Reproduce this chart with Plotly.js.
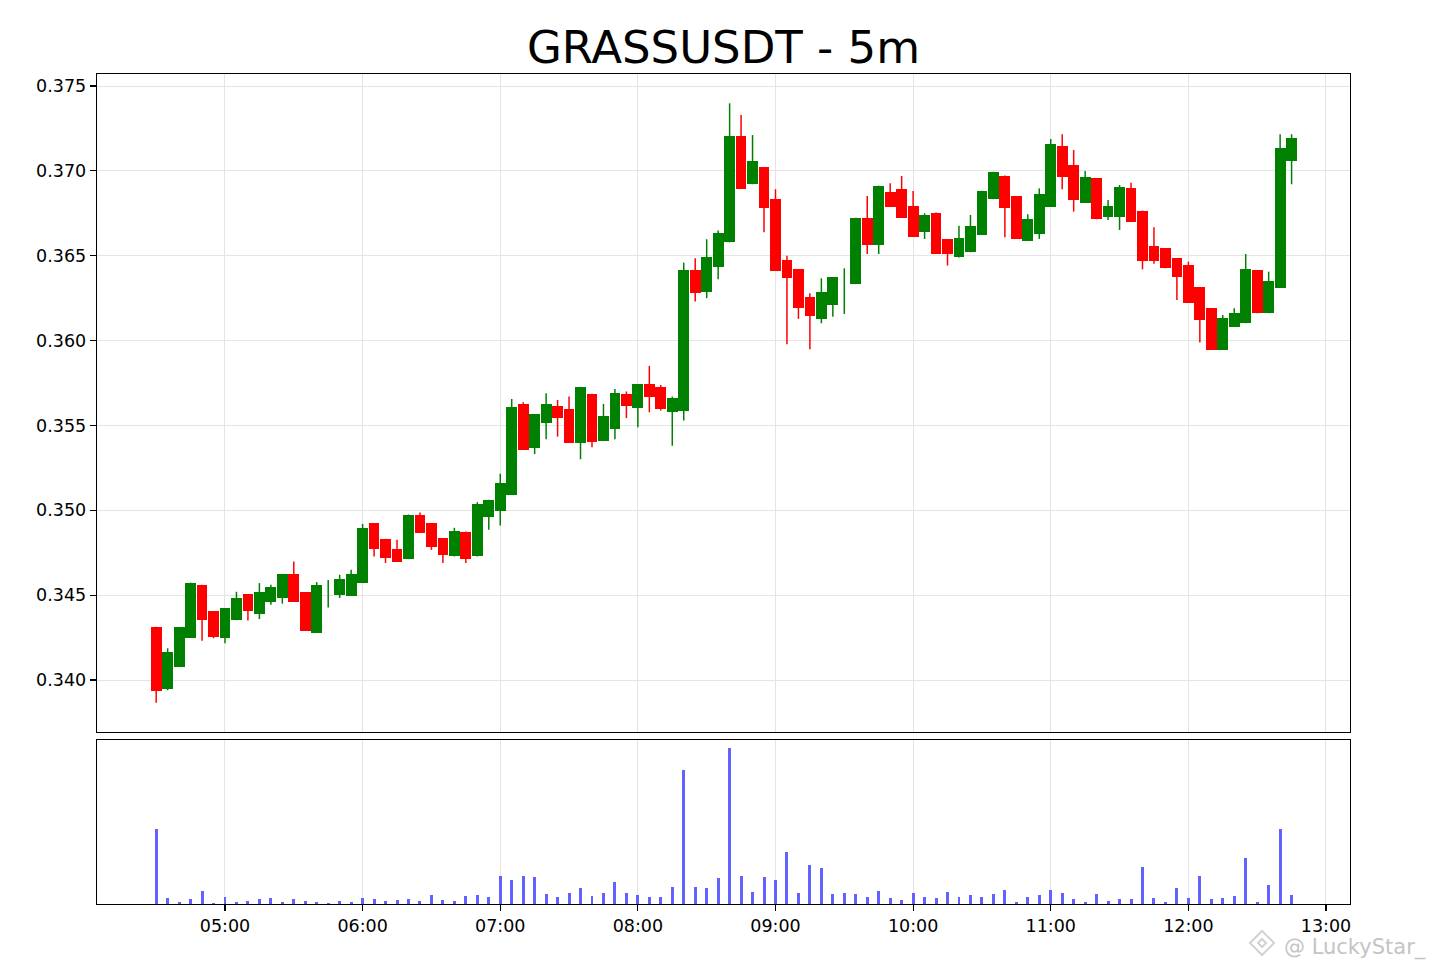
<!DOCTYPE html>
<html>
<head>
<meta charset="utf-8">
<script src="https://cdn.plot.ly/plotly-3.0.1.min.js"></script>
<style>html,body{margin:0;padding:0;background:#fff;}#chart{width:1436px;height:965px;}</style>
</head>
<body>
<div id="chart"></div>
<script>
const DAY = '2024-01-01 ';
const times = ['04:30','04:35','04:40','04:45','04:50','04:55','05:00','05:05','05:10','05:15',
'05:20','05:25','05:30','05:35','05:40','05:45','05:50','05:55','06:00','06:05',
'06:10','06:15','06:20','06:25','06:30','06:35','06:40','06:45','06:50','06:55',
'07:00','07:05','07:10','07:15','07:20','07:25','07:30','07:35','07:40','07:45',
'07:50','07:55','08:00','08:05','08:10','08:15','08:20','08:25','08:30','08:35',
'08:40','08:45','08:50','08:55','09:00','09:05','09:10','09:15','09:20','09:25',
'09:30','09:35','09:40','09:45','09:50','09:55','10:00','10:05','10:10','10:15',
'10:20','10:25','10:30','10:35','10:40','10:45','10:50','10:55','11:00','11:05',
'11:10','11:15','11:20','11:25','11:30','11:35','11:40','11:45','11:50','11:55',
'12:00','12:05','12:10','12:15','12:20','12:25','12:30','12:35','12:40','12:45'];

const open = [0.34314,0.33947,0.34079,0.34248,0.34562,0.34404,0.34247,0.34353,0.34506,0.34390,
0.34459,0.34486,0.34624,0.34516,0.34280,0.34475,0.34502,0.34496,0.34571,0.34924,
0.34832,0.34773,0.34712,0.34975,0.34924,0.34834,0.34728,0.34875,0.34728,0.34960,
0.34993,0.35091,0.35625,0.35370,0.35513,0.35615,0.35596,0.35396,0.35686,0.35411,
0.35480,0.35686,0.35602,0.35743,0.35725,0.35582,0.35588,0.36416,0.36288,0.36432,
0.36579,0.37205,0.36921,0.37023,0.36834,0.36475,0.36422,0.36255,0.36128,0.36210,
0.36285,0.36332,0.36724,0.36563,0.36874,0.36893,0.36793,0.36642,0.36754,0.36597,
0.36495,0.36520,0.36622,0.36833,0.36972,0.36852,0.36589,0.36628,0.36789,0.37147,
0.37035,0.36813,0.36956,0.36727,0.36730,0.36897,0.36766,0.36558,0.36544,0.36485,
0.36446,0.36314,0.36191,0.35945,0.36082,0.36102,0.36416,0.36161,0.36312,0.37060];

const high = [0.34314,0.34187,0.34313,0.34574,0.34562,0.34404,0.34424,0.34520,0.34506,0.34571,
0.34562,0.34624,0.34698,0.34516,0.34577,0.34590,0.34620,0.34649,0.34920,0.34924,
0.34832,0.34826,0.34975,0.34987,0.34924,0.34834,0.34897,0.34875,0.35048,0.35062,
0.35215,0.35656,0.35637,0.35566,0.35690,0.35650,0.35670,0.35725,0.35686,0.35627,
0.35714,0.35700,0.35743,0.35851,0.35739,0.35670,0.36459,0.36485,0.36597,0.36648,
0.37398,0.37329,0.37211,0.37023,0.36892,0.36500,0.36422,0.36279,0.36367,0.36373,
0.36426,0.36724,0.36852,0.36913,0.36927,0.36970,0.36882,0.36750,0.36754,0.36597,
0.36677,0.36740,0.36883,0.36995,0.36972,0.36852,0.36744,0.36897,0.37188,0.37216,
0.37123,0.36999,0.36956,0.36829,0.36917,0.36930,0.36766,0.36668,0.36544,0.36485,
0.36465,0.36314,0.36191,0.36151,0.36191,0.36510,0.36416,0.36406,0.37216,0.37216];

const low = [0.33866,0.33940,0.34079,0.34248,0.34231,0.34246,0.34217,0.34353,0.34350,0.34359,
0.34443,0.34450,0.34459,0.34290,0.34280,0.34427,0.34483,0.34496,0.34571,0.34728,
0.34689,0.34698,0.34712,0.34869,0.34767,0.34689,0.34728,0.34689,0.34728,0.34885,
0.34910,0.35091,0.35356,0.35331,0.35419,0.35434,0.35396,0.35301,0.35372,0.35411,
0.35419,0.35543,0.35490,0.35578,0.35588,0.35380,0.35529,0.36230,0.36250,0.36361,
0.36579,0.36893,0.36921,0.36638,0.36410,0.35979,0.36128,0.35949,0.36102,0.36141,
0.36157,0.36332,0.36510,0.36510,0.36789,0.36724,0.36612,0.36599,0.36510,0.36442,
0.36489,0.36520,0.36622,0.36833,0.36609,0.36599,0.36589,0.36599,0.36789,0.36892,
0.36760,0.36813,0.36715,0.36710,0.36652,0.36700,0.36420,0.36452,0.36426,0.36239,
0.36224,0.35988,0.35945,0.35945,0.36082,0.36102,0.36161,0.36161,0.36312,0.36921];

const close = [0.33937,0.34165,0.34313,0.34574,0.34353,0.34256,0.34424,0.34483,0.34408,0.34521,
0.34551,0.34624,0.34459,0.34290,0.34562,0.34475,0.34594,0.34624,0.34895,0.34771,
0.34718,0.34698,0.34975,0.34869,0.34781,0.34738,0.34881,0.34712,0.35036,0.35062,
0.35163,0.35611,0.35356,0.35566,0.35627,0.35543,0.35396,0.35725,0.35405,0.35556,
0.35694,0.35615,0.35743,0.35666,0.35596,0.35660,0.36416,0.36279,0.36495,0.36632,
0.37205,0.36893,0.37056,0.36781,0.36410,0.36367,0.36191,0.36147,0.36285,0.36373,
0.36285,0.36724,0.36563,0.36913,0.36789,0.36724,0.36612,0.36740,0.36510,0.36510,
0.36603,0.36675,0.36883,0.36995,0.36780,0.36599,0.36715,0.36864,0.37157,0.36962,
0.36829,0.36966,0.36715,0.36793,0.36903,0.36700,0.36471,0.36471,0.36426,0.36373,
0.36224,0.36122,0.35945,0.36135,0.36165,0.36422,0.36161,0.36353,0.37133,0.37195];

const volume = [75000,6000,2000,5300,12700,1300,7000,1700,2700,5300,
6000,1700,4700,3300,2000,1300,3000,1700,5700,5300,
3000,4300,5300,2700,8700,4000,2700,8000,8700,6700,
28000,24000,28000,27000,10000,7300,11000,16300,8000,11000,
22000,10700,9300,7000,7000,17300,134300,17300,16000,26300,
156000,28000,12300,27000,23700,52300,11000,39300,36300,10000,
10700,10000,7300,13000,6000,4300,11000,7000,6000,12300,
7300,9300,7000,10000,14000,2300,7000,9300,14000,11000,
5000,2000,10000,3300,5000,5000,37000,5700,2000,16000,
6000,28300,4700,6300,7700,46300,2300,19000,74700,9300];

const UP = '#008000', DOWN = '#ff0000';
const x = times.map(t => DAY + t);
const bodyBase = [], bodyLen = [], bodyCol = [];
const gwx = [], gwy = [], rwx = [], rwy = [];
for (let i = 0; i < x.length; i++) {
  const up = close[i] >= open[i];
  bodyBase.push(Math.min(open[i], close[i]));
  bodyLen.push(Math.abs(close[i] - open[i]));
  bodyCol.push(up ? UP : DOWN);
  if (up) { gwx.push(x[i], x[i], null); gwy.push(low[i], high[i], null); }
  else { rwx.push(x[i], x[i], null); rwy.push(low[i], high[i], null); }
}

const traces = [
  {type:'scatter', mode:'lines', x:gwx, y:gwy, line:{color:UP, width:1.5}, xaxis:'x', yaxis:'y', hoverinfo:'skip', showlegend:false},
  {type:'scatter', mode:'lines', x:rwx, y:rwy, line:{color:DOWN, width:1.5}, xaxis:'x', yaxis:'y', hoverinfo:'skip', showlegend:false},
  {type:'bar', x:x, y:bodyLen, base:bodyBase, width:282000, marker:{color:bodyCol, line:{width:0}}, xaxis:'x', yaxis:'y', showlegend:false},
  {type:'bar', x:x, y:volume, width:78000, marker:{color:'rgba(90,90,255,0.95)', line:{width:0}}, xaxis:'x2', yaxis:'y2', showlegend:false}
];

const xr = [DAY + '04:04:12', DAY + '13:10:28'];
const gridC = '#e4e4e4';
const wmC = '#d2d2d2';
const layout = {
  width:1436, height:965,
  paper_bgcolor:'#ffffff', plot_bgcolor:'#ffffff',
  margin:{l:97, r:86, t:74, b:61, pad:0},
  font:{family:'DejaVu Sans', size:17.5, color:'#000000'},
  showlegend:false,
  bargap:0,
  title:{text:'GRASSUSDT - 5m', font:{family:'DejaVu Sans', size:45, color:'#000000'}, x:0.5, xref:'paper', xanchor:'center', y:0.951, yref:'container', yanchor:'middle'},
  xaxis:{type:'date', range:xr, domain:[0,1], anchor:'y', showticklabels:false, ticks:'',
         tick0:DAY+'00:00', dtick:3600000, showgrid:true, gridcolor:gridC, gridwidth:1,
         showline:true, mirror:true, linecolor:'#000', linewidth:1.3, zeroline:false, fixedrange:true},
  yaxis:{domain:[0.2072,1], range:[0.336936,0.375707], anchor:'x', tick0:0.34, dtick:0.005, tickformat:'.3f',
         ticks:'outside', ticklen:6, tickwidth:1.2, tickcolor:'#000', showgrid:true, gridcolor:gridC, gridwidth:1,
         showline:true, mirror:true, linecolor:'#000', linewidth:1.3, zeroline:false},
  xaxis2:{type:'date', range:xr, domain:[0,1], anchor:'y2', tickformat:'%H:%M', tick0:DAY+'00:00', dtick:3600000,
          ticks:'outside', ticklen:6, tickwidth:1.2, tickcolor:'#000', showgrid:true, gridcolor:gridC, gridwidth:1,
          showline:true, mirror:true, linecolor:'#000', linewidth:1.3, zeroline:false},
  yaxis2:{domain:[0,0.1976], range:[0,163800], anchor:'x2', showticklabels:false, ticks:'', showgrid:false,
          showline:true, mirror:true, linecolor:'#000', linewidth:1.3, zeroline:false},
  shapes:[
    {type:'path', xref:'paper', yref:'paper', path:'M 0.9202,-0.0470 L 0.9298,-0.0325 L 0.9394,-0.0470 L 0.9298,-0.0615 Z', line:{color:wmC, width:2}, fillcolor:'rgba(0,0,0,0)'},
    {type:'path', xref:'paper', yref:'paper', path:'M 0.9266,-0.0470 L 0.9298,-0.0422 L 0.9330,-0.0470 L 0.9298,-0.0518 Z', line:{color:wmC, width:2}, fillcolor:'rgba(0,0,0,0)'}
  ],
  annotations:[
    {text:'@ LuckyStar_', xref:'paper', yref:'paper', x:0.9457, y:-0.0520, xanchor:'left', yanchor:'middle',
     showarrow:false, font:{family:'DejaVu Sans', size:21, color:'#c4c4c4'}}
  ]
};

Plotly.newPlot('chart', traces, layout, {displayModeBar:false, staticPlot:true});
</script>
</body>
</html>
